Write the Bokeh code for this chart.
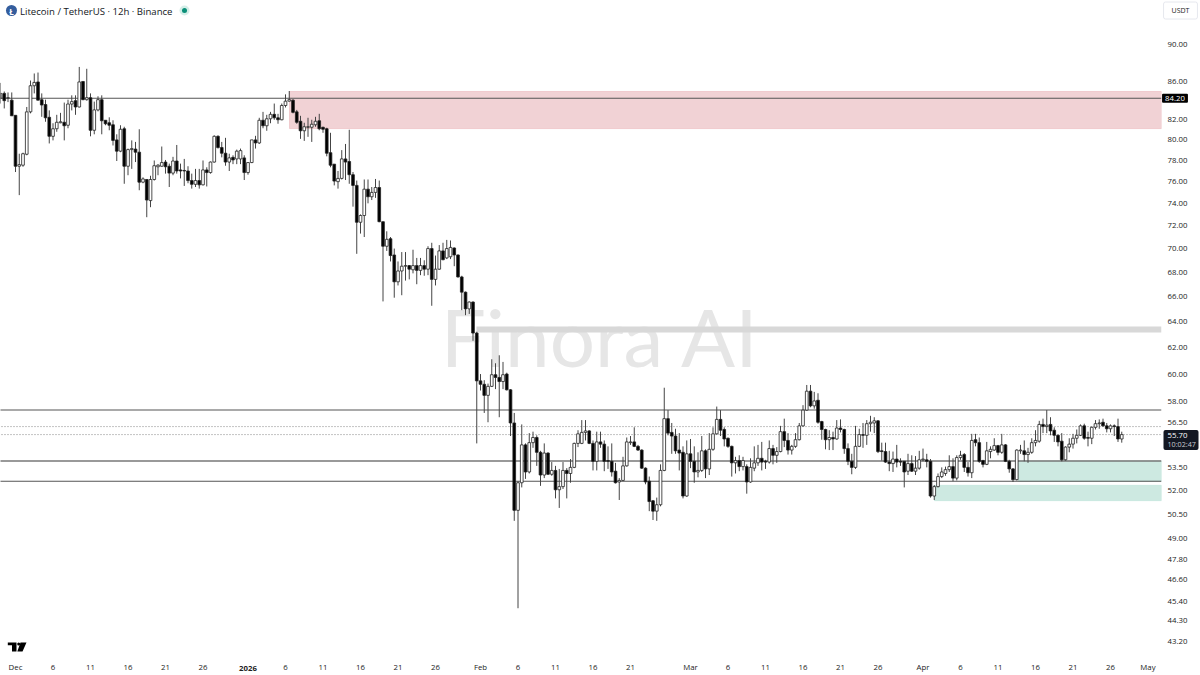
import math
from bokeh.embed import file_html
from bokeh.resources import INLINE
from bokeh.plotting import figure
from bokeh.models import (ColumnDataSource, FixedTicker, PrintfTickFormatter, Label, Range1d)

# ---- data (prices) ----
opens = [
84.2,84.7,84.2,84.0,82.45,77.45,77.55,78.6,82.8,85.5,
85.9,84.05,83.55,82.25,80.35,81.1,81.7,81.75,81.45,83.6,
83.95,83.3,85.95,84.05,84.25,80.95,83.0,84.05,81.95,81.7,
81.5,80.0,78.9,81.1,77.45,79.05,79.1,78.8,75.95,76.2,
74.25,76.2,77.4,77.45,77.85,77.45,76.8,77.95,77.1,77.05,
77.0,76.1,75.75,76.1,75.7,77.1,76.85,77.85,80.35,79.25,
78.7,77.85,78.3,78.15,78.15,78.25,76.85,77.8,80.0,79.7,
81.95,81.4,82.1,82.55,82.2,82.0,83.45,83.9,84.0,82.8,
81.85,80.9,81.25,81.25,81.5,81.9,81.25,81.1,78.75,77.65,
76.0,76.3,78.15,77.9,76.65,75.65,72.3,72.9,75.3,74.6,
75.0,75.45,72.35,70.2,70.85,69.45,67.2,68.1,68.5,68.55,
68.2,68.55,68.15,68.55,68.25,70.0,67.4,68.25,69.8,69.2,
69.3,70.05,69.45,67.6,66.35,65.0,65.55,63.1,59.5,59.25,
58.45,59.1,59.95,59.75,59.45,60.0,58.85,56.5,50.75,52.5,
55.0,53.2,55.15,55.5,54.5,53.0,54.45,53.05,53.3,52.05,
52.25,53.3,53.1,53.5,55.1,55.1,55.85,55.95,55.1,53.9,
55.2,55.05,53.95,53.9,53.25,52.55,52.65,53.6,55.15,55.2,
54.9,54.65,53.45,52.6,51.35,50.7,51.1,53.3,56.8,55.85,
55.6,54.65,54.5,51.65,54.4,53.9,53.2,53.3,54.6,53.4,
54.7,55.75,56.75,56.05,55.45,54.9,53.8,53.95,53.55,53.55,
52.55,53.45,53.8,54.1,53.9,53.85,54.75,54.3,54.55,55.9,
55.3,54.65,54.9,55.35,56.3,57.4,58.75,57.7,58.1,56.6,
56.05,55.35,55.5,55.4,56.15,56.05,54.75,53.9,53.5,54.9,
55.7,55.65,56.45,56.5,56.65,54.6,54.55,53.85,53.75,54.05,
53.9,53.9,53.25,53.75,53.25,53.45,54.0,54.0,53.9,51.65,
52.25,52.9,53.1,53.35,53.55,52.8,54.15,54.35,53.5,53.15,
55.35,55.15,53.95,53.7,54.55,54.65,54.95,54.5,55.0,53.9,
53.4,52.7,54.6,54.6,54.35,54.5,55.15,55.25,56.4,56.25,
56.4,56.0,55.65,55.25,54.0,54.85,55.05,55.45,55.65,56.3,
55.5,55.45,56.2,56.45,56.55,56.3,56.1,56.3,56.25,55.4]
closes = [
84.7,83.95,84.25,82.4,77.45,77.6,78.65,82.8,85.5,85.85,
84.0,83.5,82.2,80.35,81.1,81.75,81.8,81.4,83.6,83.85,
83.3,85.9,84.05,84.25,80.95,83.0,84.05,81.9,81.6,81.45,
79.95,78.9,81.05,77.45,79.05,79.15,78.8,75.95,76.25,74.3,
76.2,77.5,77.55,77.8,77.4,76.8,77.95,77.0,77.0,77.0,
76.1,75.75,76.1,75.7,77.1,76.85,77.85,80.35,79.25,78.7,
77.85,78.25,78.05,78.9,78.95,76.85,77.8,80.0,79.7,81.95,
81.4,82.1,82.55,82.2,82.0,83.45,83.9,84.05,82.75,81.75,
80.9,81.3,81.3,81.55,81.85,81.1,81.05,78.7,77.55,76.05,
76.3,78.15,77.85,76.65,75.65,72.3,72.9,75.3,74.6,75.0,
75.45,72.35,70.2,70.8,69.4,67.2,68.1,68.5,68.55,68.25,
68.55,68.15,68.55,68.25,70.0,67.4,68.25,69.8,69.05,70.0,
70.1,69.45,67.6,66.35,65.0,65.55,63.1,59.5,59.25,58.45,
59.1,59.95,59.75,59.45,59.95,58.85,56.5,50.75,52.5,55.0,
53.2,55.15,55.5,54.5,53.0,54.45,53.05,53.3,52.05,52.25,
53.3,53.1,53.5,55.1,55.75,55.85,55.95,55.1,53.9,55.2,
55.05,53.9,53.9,53.2,52.5,52.65,53.6,55.2,55.2,54.9,
54.65,53.45,52.55,51.3,50.7,51.1,53.3,56.8,55.8,55.6,
54.6,54.45,51.65,54.4,53.9,53.2,53.3,54.6,53.4,54.7,
55.75,56.75,56.0,55.4,54.9,53.8,53.95,53.55,53.95,52.55,
53.5,53.8,54.1,53.85,53.85,54.75,54.3,54.55,55.9,55.3,
54.65,54.9,55.35,56.3,57.4,58.75,57.7,58.05,56.55,56.05,
55.35,55.5,55.4,56.15,56.05,54.75,53.9,53.5,54.9,55.7,
55.65,56.45,56.55,56.65,54.55,54.55,53.85,53.75,54.05,53.85,
53.85,53.2,53.75,53.25,53.45,54.0,54.05,53.9,51.65,52.25,
52.9,53.2,53.35,53.55,52.8,54.15,54.3,53.5,53.15,55.3,
55.15,53.9,53.7,54.6,54.7,54.95,54.5,55.0,53.9,53.4,
52.7,54.65,54.65,54.35,54.5,55.15,55.3,56.4,56.25,56.35,
55.95,55.65,55.2,54.0,54.85,55.05,55.45,55.65,56.3,55.45,
55.45,56.2,56.45,56.5,56.3,56.1,56.3,56.25,55.4,55.7]
highs = [
85.8,84.9,84.8,84.8,82.45,78.65,78.75,83.3,86.05,86.8,
86.9,84.7,84.05,82.95,81.65,82.5,82.7,83.75,84.05,84.5,
84.5,87.5,85.95,87.3,84.7,83.85,84.4,84.5,81.95,82.25,
81.95,80.55,81.45,81.3,79.15,79.95,79.8,81.05,76.4,76.2,
76.55,78.0,77.65,79.35,78.05,77.7,78.35,79.5,77.7,78.15,
77.45,76.75,77.2,77.2,78.0,77.35,77.9,80.45,80.45,79.8,
80.2,78.65,78.5,79.05,79.15,78.5,77.85,80.0,80.4,82.2,
82.8,82.5,82.8,83.65,82.6,83.65,84.6,84.95,84.1,83.0,
82.4,81.7,82.2,82.0,82.3,82.6,81.3,81.2,80.7,77.65,
77.0,79.0,79.6,81.0,76.9,76.1,73.0,76.2,76.2,75.5,
76.25,76.1,72.35,71.5,71.0,70.0,68.9,69.7,69.7,68.6,
69.9,69.2,69.2,69.0,70.2,70.5,69.4,70.3,70.5,70.75,
70.7,70.1,69.5,67.7,66.4,65.6,65.6,63.2,60.0,59.55,
59.3,61.1,60.8,61.4,60.9,60.1,58.9,57.2,52.6,56.4,
55.1,55.8,55.9,55.65,54.6,55.1,54.5,53.85,53.6,53.4,
53.85,53.45,54.05,55.15,56.0,56.7,56.7,56.0,55.3,55.9,
55.9,55.3,54.9,55.1,53.8,52.8,54.2,55.5,55.6,56.2,
55.0,54.7,53.5,52.9,51.4,51.55,53.7,59.0,57.4,56.5,
56.1,55.8,54.9,55.3,55.4,54.9,54.5,55.6,54.7,55.8,
56.2,57.65,57.4,56.2,55.5,54.95,54.2,54.3,54.2,53.7,
54.1,54.9,55.0,55.2,54.0,55.3,55.0,54.85,56.3,56.8,
55.8,55.0,55.8,56.5,57.75,59.2,59.2,58.7,58.6,56.65,
56.1,56.0,55.9,56.7,56.75,56.1,55.1,54.4,56.3,56.1,
56.5,56.7,57.0,56.9,56.7,55.15,55.15,54.6,54.55,55.0,
54.1,53.9,54.4,54.3,54.25,54.6,54.75,54.4,54.05,52.35,
53.1,53.5,53.55,54.3,54.1,54.3,54.6,54.45,53.85,55.75,
55.75,55.5,54.0,55.2,54.9,55.45,55.0,55.75,55.05,54.0,
53.45,54.7,55.0,55.3,54.8,55.45,56.0,56.65,56.8,57.4,
56.9,56.2,55.7,55.8,54.9,55.45,55.75,56.05,56.4,56.45,
55.9,56.25,56.7,56.75,56.8,56.5,56.4,56.4,56.8,55.9]
lows = [
83.65,83.15,83.8,82.4,76.9,74.75,77.4,78.5,82.65,84.7,
84.0,82.3,81.8,79.65,79.95,80.8,81.65,79.95,81.15,82.95,
82.5,83.25,84.0,83.95,80.35,80.55,82.85,80.55,81.45,80.95,
79.45,77.95,78.8,75.8,76.6,77.2,77.85,75.2,75.85,72.75,
73.65,76.1,76.6,77.4,76.75,75.5,76.6,76.75,76.3,75.6,
75.85,75.35,75.5,75.35,75.65,75.55,76.75,77.8,79.15,78.3,
77.5,77.0,77.65,77.65,77.65,76.15,76.65,77.75,79.15,79.6,
81.15,80.9,81.65,82.0,81.6,81.95,83.25,83.85,82.65,81.6,
80.1,79.9,80.3,79.8,81.3,80.95,80.7,78.4,77.35,75.65,
75.35,76.2,76.15,75.8,73.7,69.55,71.3,71.0,74.0,74.3,
74.5,72.3,65.6,69.8,68.9,65.9,66.9,66.1,67.3,67.4,
67.9,67.0,67.75,67.7,67.75,65.25,66.9,68.2,69.0,69.1,
69.1,68.5,67.55,64.9,64.5,64.6,62.5,55.1,58.8,57.2,
56.55,59.05,58.9,56.9,58.9,58.8,55.6,50.1,45.0,52.2,
52.75,53.1,54.8,53.6,52.3,52.8,53.0,52.95,51.5,50.9,
52.1,51.5,52.5,53.45,54.85,55.05,55.3,55.05,53.3,53.3,
54.8,53.25,53.4,52.9,52.45,51.4,52.6,53.55,55.0,54.85,
54.6,53.4,52.4,50.7,50.15,50.1,51.0,53.25,55.65,54.4,
54.4,53.3,51.5,51.6,53.45,52.5,52.85,53.2,52.8,53.0,
54.6,55.7,55.6,54.9,54.8,52.9,53.1,53.25,53.3,51.8,
52.5,53.25,53.6,53.3,53.4,53.75,53.7,53.8,54.5,54.85,
54.35,54.35,54.8,55.3,56.25,57.35,57.6,57.5,56.45,55.35,
54.7,54.65,54.65,55.35,55.85,54.4,53.65,53.05,53.4,54.85,
54.8,55.0,55.9,55.8,54.45,53.95,53.8,53.25,53.2,53.5,
53.6,52.2,53.0,53.2,53.0,53.35,53.9,53.5,51.55,51.4,
52.2,52.8,52.95,53.2,52.6,52.65,54.0,53.2,52.9,52.8,
54.9,53.8,53.5,53.65,54.1,54.6,54.3,54.4,53.85,53.15,
52.55,52.65,54.4,53.9,53.8,54.4,54.9,55.15,55.8,55.8,
55.65,55.2,54.9,53.9,53.95,54.5,54.75,55.1,55.6,55.35,
54.9,55.05,56.05,56.1,56.25,55.85,55.85,55.6,55.2,55.15]
assert len(opens)==len(closes)==len(highs)==len(lows)==300

price_ticks = [90,86,82,80,78,76,74,72,70,68,66,64,62,60,58,56.5,53.5,52,50.5,49,47.8,46.6,45.4,44.3,43.2]
time_days = [0,5,10,15,20,25,36,41,46,51,56,62,67,72,77,82,90,95,100,105,110,115,121,126,131,136,141,146,151]
time_labels = ["Dec","6","11","16","21","26","6","11","16","21","26","Feb","6","11","16","21","Mar","6","11","16","21","26","Apr","6","11","16","21","26","May"]
solid_levels = [84.2, 57.41, 52.6]
heavy_level = 53.92
dotted_levels = [56.25, 55.7]
band_level = 63.38
red_zone = (81.12, 84.9)
green_zone_1 = (52.6, 53.92)
green_zone_2 = (51.36, 52.33)
last_price = 55.70

# chart-space helpers for the page furniture (reference pixels -> axis units)
def T(px): return (px - 15) / 7.5
def Y(py): return 90 * math.exp(-(py - 43.5) / 814)

days = [(i - 4) / 2 for i in range(300)]
up = [c >= o for o, c in zip(opens, closes)]
body_top = [max(o, c) for o, c in zip(opens, closes)]
body_bot = [min(o, c) for o, c in zip(opens, closes)]
src = ColumnDataSource(dict(x=days, hi=highs, lo=lows, top=body_top, bot=body_bot,
                            fill=["#ffffff" if u else "#000000" for u in up]))

x_end = T(1161)
p = figure(width=1200, height=675, frame_width=1161, frame_height=657,
           x_range=Range1d(T(0), x_end), y_range=Range1d(Y(657), Y(0)),
           y_axis_type="log", y_axis_location="right",
           output_backend="svg", toolbar_location=None,
           min_border_left=0, min_border_top=0, min_border_right=39, min_border_bottom=18)
p.styles = {"position": "absolute", "left": "0px", "top": "0px"}
p.outline_line_color = None
p.grid.visible = False
p.background_fill_color = "#ffffff"
p.border_fill_color = "#ffffff"

FONT = "Open Sans"
TICK_SIZE = "7.8px"
ax = p.yaxis[0]
ax.ticker = FixedTicker(ticks=price_ticks)
ax.formatter = PrintfTickFormatter(format="%.2f")
ax.axis_line_color = None
ax.major_tick_line_color = None
ax.minor_tick_line_color = None
ax.major_tick_out = 0
ax.major_tick_in = 0
ax.minor_tick_out = 0
ax.major_label_standoff = 6
ax.major_label_text_font = FONT
ax.major_label_text_font_size = TICK_SIZE
ax.major_label_text_color = "#222222"

bx = p.xaxis[0]
bx.ticker = FixedTicker(ticks=time_days)
bx.major_label_overrides = {d: l for d, l in zip(time_days, time_labels)}
bx.axis_line_color = None
bx.major_tick_line_color = None
bx.minor_tick_line_color = None
bx.major_tick_out = 0
bx.major_tick_in = 0
bx.minor_tick_out = 0
bx.major_label_standoff = 4
bx.major_label_text_font = FONT
bx.major_label_text_font_size = TICK_SIZE
bx.major_label_text_color = "#222222"

# watermark
p.add_layout(Label(x=T(600), y=Y(335), text="Finora AI", text_align="center", text_baseline="alphabetic",
                   text_font="Lato", text_font_size="80px", text_color="#e6e6e6", level="underlay"))

# zones
p.quad(left=[T(289)], right=[x_end], bottom=[red_zone[0]], top=[red_zone[1]],
       fill_color="#f1d2d5", line_color="#eec3c7", line_width=0.8, level="underlay")
p.quad(left=[T(1018)], right=[x_end], bottom=[green_zone_1[0]], top=[green_zone_1[1]],
       fill_color="#cde9e1", line_color="#bfe3d9", line_width=0.8, level="underlay")
p.quad(left=[T(934)], right=[x_end], bottom=[green_zone_2[0]], top=[green_zone_2[1]],
       fill_color="#cde9e1", line_color="#bfe3d9", line_width=0.8, level="underlay")

# levels
x0 = T(-5)
p.segment(x0=[T(476)], x1=[x_end], y0=[band_level], y1=[band_level], line_color="#d8d8d8", line_width=6)
for lv in solid_levels:
    p.segment(x0=[x0], x1=[x_end], y0=[lv], y1=[lv], line_color="#555555", line_width=1.1)
p.segment(x0=[x0], x1=[x_end], y0=[heavy_level], y1=[heavy_level], line_color="#777777", line_width=1.6)
for lv in dotted_levels:
    p.segment(x0=[x0], x1=[x_end], y0=[lv], y1=[lv], line_color="#888888", line_width=1, line_dash="1 2")

# candles
p.segment(x0="x", x1="x", y0="lo", y1="hi", source=src, line_color="#444444", line_width=1)
p.vbar(x="x", width=0.36, top="top", bottom="bot", source=src, fill_color="fill", line_color="#222222", line_width=0.8)

# page furniture on a transparent layer as large as the page (texts beyond the price pane stay visible)
q = figure(width=1200, height=675, frame_width=1200, frame_height=675,
           x_range=Range1d(T(0), T(1200)), y_range=Range1d(Y(675), Y(0)),
           y_axis_type="log", x_axis_location=None, y_axis_location=None,
           output_backend="svg", toolbar_location=None,
           min_border_left=0, min_border_top=0, min_border_right=0, min_border_bottom=0)
q.styles = {"position": "absolute", "left": "0px", "top": "0px"}
q.outline_line_color = None
q.grid.visible = False
q.background_fill_color = None
q.border_fill_color = None

# header
q.scatter(x=[T(11)], y=[Y(10)], size=11, marker="circle", fill_color="#345d9d", line_color=None)
q.add_layout(Label(x=T(11), y=Y(10.5), text="Ł", text_align="center", text_baseline="middle",
                   text_font=FONT, text_font_size="8px", text_font_style="bold", text_color="#ffffff"))
q.add_layout(Label(x=T(19.5), y=Y(10.5), text="Litecoin / TetherUS · 12h · Binance", text_align="left",
                   text_baseline="middle", text_font=FONT, text_font_size="9.6px", text_color="#131722"))
q.scatter(x=[T(184)], y=[Y(10)], size=10, marker="circle", fill_color="#d4eee8", line_color=None)
q.scatter(x=[T(184)], y=[Y(10)], size=5, marker="circle", fill_color="#0a8f78", line_color=None)

# TradingView mark
q.patch(x=[T(v) for v in (7.3, 16, 16, 11.5, 11.5, 7.3)], y=[Y(v) for v in (642, 642, 651, 651, 644.8, 644.8)],
        fill_color="#000000", line_color=None)
q.patch(x=[T(v) for v in (20, 26, 22, 16.8)], y=[Y(v) for v in (642, 642, 651, 651)],
        fill_color="#000000", line_color=None)
q.scatter(x=[T(18.2)], y=[Y(643.4)], size=3, marker="circle", fill_color="#000000", line_color=None)

# bold year tick
q.add_layout(Label(x=31, y=Y(667.5), text="2026", text_align="center", text_baseline="middle",
                   text_font=FONT, text_font_size=TICK_SIZE, text_font_style="bold", text_color="#222222"))

# USDT button
q.add_layout(Label(x=T(1180), y=Y(10), text="USDT", text_align="center", text_baseline="middle",
                   text_font=FONT, text_font_size="7px", text_color="#222222",
                   border_line_color="#e6e8ee", background_fill_color="#ffffff", padding=(8, 4), border_radius=2))

# price tags
q.add_layout(Label(x=T(1174.5), y=84.2, text="84.20", text_align="center", text_baseline="middle",
                   text_font=FONT, text_font_size=TICK_SIZE, text_color="#ffffff",
                   background_fill_color="#000000", padding=(3, 2), border_radius=1))
q.quad(left=[T(1163)], right=[T(1198)], bottom=[Y(449.5)], top=[Y(429.5)], fill_color="#131722", line_color=None,
       border_radius=2)
q.add_layout(Label(x=T(1167), y=Y(434.5), text=f"{last_price:.2f}", text_align="left", text_baseline="middle",
                   text_font=FONT, text_font_size=TICK_SIZE, text_color="#ffffff"))
q.add_layout(Label(x=T(1167), y=Y(443.8), text="10:02:47", text_align="left", text_baseline="middle",
                   text_font=FONT, text_font_size="7.2px", text_color="#c8cad0"))

open("out.html", "w").write(file_html([p, q], INLINE))
